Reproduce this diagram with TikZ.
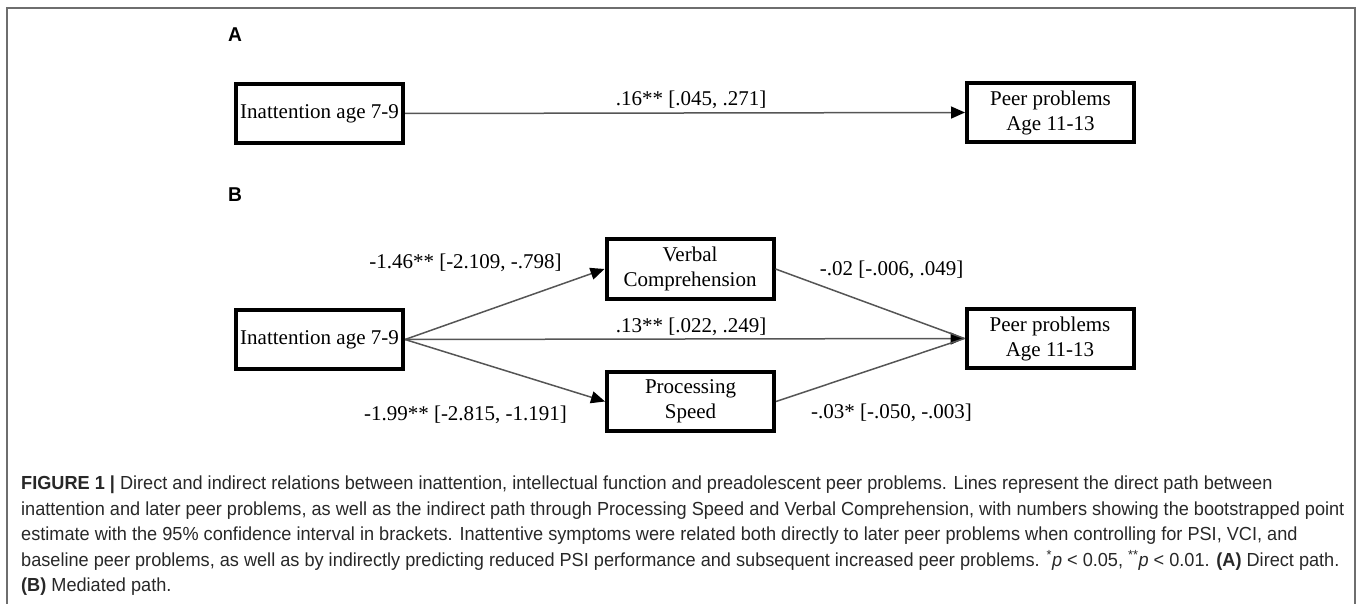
\documentclass[tikz,border=0pt]{standalone}
\usepackage{fontspec}
\setmainfont{Liberation Serif}
\newfontfamily\capfont[FakeStretch=0.96]{Liberation Sans}
\usepackage{tikz}
\usetikzlibrary{arrows.meta}
\definecolor{framegray}{RGB}{110,110,110}
\definecolor{linegray}{RGB}{85,85,85}
\definecolor{captext}{RGB}{40,40,40}
\tikzstyle{varbox}=[rectangle, draw, line width=4pt, minimum width=167pt, minimum height=59pt, inner sep=2pt, align=center, font=\fontsize{21}{25}\selectfont]
\tikzstyle{pathlabel}=[inner sep=0pt, font=\fontsize{21}{25}\selectfont]
\tikzstyle{panel}=[anchor=west, inner sep=0pt, font=\capfont\bfseries\fontsize{20}{23}\selectfont]
\tikzstyle{capline}=[anchor=base west, inner sep=0pt, text=captext, font=\capfont\fontsize{18.9}{25}\selectfont]
\tikzstyle{conn}=[line width=1.5pt, draw=linegray]
\tikzstyle{conntip}=[conn, -{Triangle[length=14pt, width=12pt, color=black]}]
\newcommand{\varbox}{\node[varbox]}
\newcommand{\pathlabel}{\node[pathlabel]}

\begin{document}
\begin{tikzpicture}[x=1pt, y=-1pt]
\useasboundingbox (0,0) rectangle (1358,604);
\draw[framegray, line width=1.5pt] (7,612) -- (7,8) -- (1355,8) -- (1355,612);

% panel A
\node[panel] (panA) at (228,35) {A};
    \varbox (inA) at (319.5,113.5) {Inattention age 7-9};
    \varbox (peerA) at (1050.5,112.5) {Peer problems\\Age 11-13};
    \pathlabel (lA) at (691,100) {.16** [.045, .271]};

% panel B
\node[panel] (panB) at (228,195) {B};
    \varbox (inB) at (319.5,339.5) {Inattention age 7-9};
    \varbox (verbal) at (690,269) {Verbal\\Comprehension};
    \varbox (proc) at (690.5,401.5) {Processing\\Speed};
    \varbox (peerB) at (1050,338.5) {Peer problems\\Age 11-13};
    \pathlabel (lvi) at (465.5,263) {-1.46** [-2.109, -.798]};
    \pathlabel (lpi) at (465.5,415) {-1.99** [-2.815, -1.191]};
    \pathlabel (ldir) at (691,327) {.13** [.022, .249]};
    \pathlabel (lvp) at (891.5,270) {-.02 [-.006, .049]};
    \pathlabel (lpp) at (891.5,413) {-.03* [-.050, -.003]};

    \path
        (inA.east) edge[conntip] (peerA.west)
        (inB.east) edge[conntip] (verbal.west)
        (inB.east) edge[conntip] (proc.west)
        (inB.east) edge[conntip] (peerB.west)
        (verbal.east) edge[conn] (peerB.west)
        (proc.east) edge[conn] (peerB.west)
        ;

% caption
\node[capline] (cap1) at (21,489) {{\bfseries FIGURE 1 |} Direct and indirect relations between inattention, intellectual function and preadolescent peer problems. Lines represent the direct path between};
\node[capline] (cap2) at (21,515) {inattention and later peer problems, as well as the indirect path through Processing Speed and Verbal Comprehension, with numbers showing the bootstrapped point};
\node[capline] (cap3) at (21,540) {estimate with the 95\% confidence interval in brackets. Inattentive symptoms were related both directly to later peer problems when controlling for PSI, VCI, and};
\node[capline] (cap4) at (21,566) {baseline peer problems, as well as by indirectly predicting reduced PSI performance and subsequent increased peer problems. \textsuperscript{*}\textit{p} < 0.05, \textsuperscript{**}\textit{p} < 0.01. {\bfseries (A)} Direct path.};
\node[capline] (cap5) at (21,591) {{\bfseries (B)} Mediated path.};
\end{tikzpicture}
\end{document}
